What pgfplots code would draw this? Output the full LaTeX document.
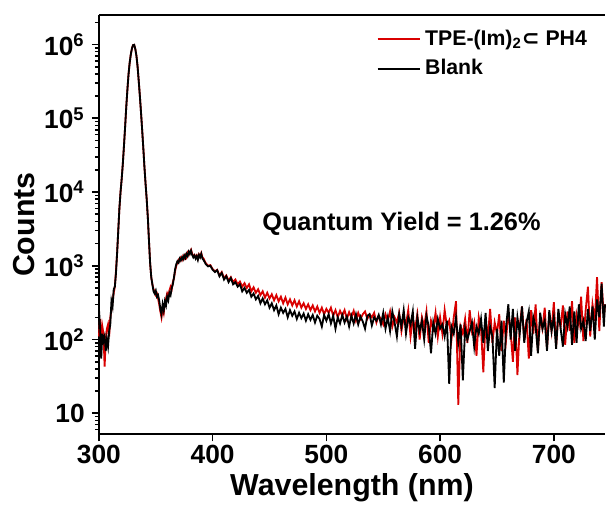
\documentclass[border=0pt]{standalone}
\usepackage{fontspec}
\setmainfont{Liberation Sans}
\newfontfamily\dejavu{DejaVu Sans}
\usepackage{pgfplots}
\usepackage{pgfplotstable}
\pgfplotsset{compat=1.18}

% TPE-(Im)2 in PH4 (red); columns: wavelength counts
\pgfplotstableread[row sep=\\]{
x y\\
300 110\\ 301 190\\ 302 90\\ 303 150\\ 304 120\\ 305 43\\ 306 100\\ 307 140\\ 308 160\\ 309 110\\
310 200\\ 311 250\\ 312 330\\ 313 430\\ 314 520\\ 315 850\\ 316 1500\\ 317 3000\\ 318 6000\\ 319 10000\\
320 15000\\ 321 24000\\ 322 42000\\ 323 75000\\ 324 140000\\ 325 240000\\ 326 390000\\ 327 560000\\ 328 730000\\ 329 880000\\
330 980000\\ 331 990000\\ 332 870000\\ 333 700000\\ 334 500000\\ 335 320000\\ 336 200000\\ 337 120000\\ 338 70000\\ 339 40000\\
340 22000\\ 341 13000\\ 342 8000\\ 343 4500\\ 344 2200\\ 345 1100\\ 346 700\\ 347 560\\ 348 480\\ 349 450\\
350 400\\ 351 420\\ 352 360\\ 353 300\\ 354 240\\ 355 200\\ 356 270\\ 357 230\\ 358 310\\ 359 360\\
360 420\\ 361 380\\ 362 460\\ 363 520\\ 364 480\\ 365 600\\ 366 680\\ 367 850\\ 368 1000\\ 369 1100\\
370 1200\\ 371 1150\\ 372 1280\\ 373 1200\\ 374 1350\\ 375 1260\\ 376 1400\\ 377 1300\\ 378 1500\\ 379 1400\\
380 1550\\ 381 1650\\ 382 1450\\ 383 1350\\ 384 1400\\ 385 1300\\ 386 1380\\ 387 1250\\ 388 1420\\ 389 1330\\
390 1480\\ 391 1300\\ 392 1250\\ 394 1080\\ 396 1000\\ 398 1020\\ 400 900\\
402 840\\ 404 880\\ 406 740\\ 408 820\\ 410 680\\ 412 740\\ 414 630\\ 416 700\\ 418 600\\ 420 650\\
422 560\\ 424 610\\ 426 520\\ 428 580\\ 430 500\\ 432 560\\ 434 450\\ 436 510\\ 438 430\\ 440 480\\
442 400\\ 444 450\\ 446 370\\ 448 430\\ 450 360\\ 452 410\\ 454 340\\ 456 400\\ 458 330\\ 460 380\\
462 310\\ 464 370\\ 466 300\\ 468 350\\ 470 290\\ 472 340\\ 474 280\\ 476 330\\ 478 270\\ 480 310\\
482 260\\ 484 300\\ 486 250\\ 488 290\\ 490 240\\ 492 280\\ 494 230\\ 496 270\\ 498 220\\ 500 260\\
502 230\\ 504 270\\ 506 210\\ 508 250\\ 510 200\\ 512 245\\ 514 210\\ 516 250\\ 518 190\\ 520 235\\
522 200\\ 524 245\\ 526 180\\ 528 230\\ 530 190\\ 532 220\\ 534 240\\ 536 190\\ 538 220\\ 540 200\\
542 230\\ 544 170\\ 546 210\\ 548 190\\ 550 160\\ 552 220\\ 554 180\\ 556 240\\ 558 150\\ 560 200\\
562 170\\ 564 230\\ 566 130\\ 568 200\\ 570 160\\ 572 250\\ 574 110\\ 576 190\\ 578 140\\ 580 220\\
582 100\\ 584 200\\ 586 150\\ 588 240\\ 590 90\\ 592 180\\ 594 140\\ 596 230\\ 598 110\\ 600 200\\
602 120\\ 604 250\\ 606 150\\ 608 180\\ 610 100\\ 612 200\\ 614 330\\ 616 13\\ 618 150\\ 620 120\\
622 190\\ 624 90\\ 626 250\\ 628 130\\ 630 170\\ 632 60\\ 634 200\\ 636 140\\ 638 36\\ 640 180\\
642 110\\ 644 260\\ 646 90\\ 648 170\\ 650 120\\ 652 220\\ 654 70\\ 656 180\\ 658 100\\ 660 240\\
662 130\\ 664 50\\ 666 200\\ 668 33\\ 670 150\\ 672 280\\ 674 100\\ 676 190\\ 678 55\\ 680 250\\
682 120\\ 684 300\\ 686 70\\ 688 200\\ 690 140\\ 692 270\\ 694 75\\ 696 220\\ 698 130\\ 700 320\\
702 80\\ 704 210\\ 706 150\\ 708 290\\ 710 85\\ 712 240\\ 714 130\\ 716 330\\ 718 90\\ 720 220\\
722 160\\ 724 380\\ 726 95\\ 728 250\\ 730 520\\ 732 110\\ 734 300\\ 736 180\\ 738 700\\ 740 130\\
742 600\\ 744 200\\ 745 300\\
}\sample

% Blank (black)
\pgfplotstableread[row sep=\\]{
x y\\
300 260\\ 301 150\\ 302 55\\ 303 120\\ 304 95\\ 305 110\\ 306 70\\ 307 100\\ 308 80\\ 309 130\\
310 160\\ 311 330\\ 312 280\\ 313 480\\ 314 520\\ 315 800\\ 316 1500\\ 317 3000\\ 318 6000\\ 319 10000\\
320 15000\\ 321 24000\\ 322 42000\\ 323 75000\\ 324 140000\\ 325 240000\\ 326 390000\\ 327 560000\\ 328 730000\\ 329 880000\\
330 980000\\ 331 990000\\ 332 870000\\ 333 700000\\ 334 500000\\ 335 320000\\ 336 200000\\ 337 120000\\ 338 70000\\ 339 40000\\
340 22000\\ 341 13000\\ 342 8000\\ 343 4500\\ 344 2200\\ 345 1100\\ 346 700\\ 347 560\\ 348 450\\ 349 420\\
350 460\\ 351 380\\ 352 400\\ 353 340\\ 354 260\\ 355 220\\ 356 300\\ 357 250\\ 358 330\\ 359 290\\
360 380\\ 361 340\\ 362 430\\ 363 400\\ 364 500\\ 365 560\\ 366 700\\ 367 900\\ 368 1050\\ 369 1150\\
370 1100\\ 371 1250\\ 372 1180\\ 373 1300\\ 374 1220\\ 375 1380\\ 376 1280\\ 377 1450\\ 378 1350\\ 379 1550\\
380 1450\\ 381 1600\\ 382 1400\\ 383 1300\\ 384 1380\\ 385 1250\\ 386 1350\\ 387 1200\\ 388 1400\\ 389 1300\\
390 1450\\ 391 1250\\ 392 1200\\ 394 1050\\ 396 980\\ 398 1000\\ 400 880\\
402 820\\ 404 870\\ 406 720\\ 408 800\\ 410 650\\ 412 720\\ 414 600\\ 416 680\\ 418 560\\ 420 600\\
422 520\\ 424 560\\ 426 450\\ 428 500\\ 430 430\\ 432 470\\ 434 380\\ 436 420\\ 438 350\\ 440 390\\
442 310\\ 444 360\\ 446 300\\ 448 340\\ 450 270\\ 452 310\\ 454 250\\ 456 290\\ 458 220\\ 460 270\\
462 230\\ 464 260\\ 466 200\\ 468 250\\ 470 210\\ 472 240\\ 474 190\\ 476 230\\ 478 195\\ 480 225\\
482 180\\ 484 220\\ 486 185\\ 488 215\\ 490 170\\ 492 210\\ 494 190\\ 496 150\\ 498 215\\ 500 180\\
502 220\\ 504 165\\ 506 210\\ 508 140\\ 510 200\\ 512 165\\ 514 215\\ 516 170\\ 518 205\\ 520 150\\
522 210\\ 524 165\\ 526 220\\ 528 160\\ 530 205\\ 532 175\\ 534 140\\ 536 210\\ 538 220\\ 540 155\\
542 200\\ 544 180\\ 546 215\\ 548 160\\ 550 230\\ 552 140\\ 554 200\\ 556 130\\ 558 240\\ 560 170\\
562 110\\ 564 220\\ 566 150\\ 568 250\\ 570 120\\ 572 200\\ 574 160\\ 576 240\\ 578 75\\ 580 200\\
582 130\\ 584 180\\ 586 100\\ 588 210\\ 590 150\\ 592 65\\ 594 170\\ 596 120\\ 598 190\\ 600 140\\
602 160\\ 604 110\\ 606 180\\ 608 25\\ 610 150\\ 612 120\\ 614 200\\ 616 90\\ 618 160\\ 620 28\\
622 140\\ 624 100\\ 626 130\\ 628 170\\ 630 80\\ 632 150\\ 634 120\\ 636 190\\ 638 90\\ 640 230\\
642 70\\ 644 150\\ 646 110\\ 648 22\\ 650 140\\ 652 60\\ 654 180\\ 656 26\\ 658 150\\ 660 300\\
662 100\\ 664 260\\ 666 70\\ 668 200\\ 670 120\\ 672 280\\ 674 90\\ 676 170\\ 678 240\\ 680 60\\
682 200\\ 684 150\\ 686 65\\ 688 230\\ 690 140\\ 692 180\\ 694 70\\ 696 250\\ 698 130\\ 700 200\\
702 75\\ 704 260\\ 706 140\\ 708 80\\ 710 220\\ 712 150\\ 714 280\\ 716 85\\ 718 240\\ 720 90\\
722 300\\ 724 140\\ 726 180\\ 728 95\\ 730 260\\ 732 130\\ 734 280\\ 736 100\\ 738 350\\ 740 200\\
742 570\\ 744 150\\ 745 300\\
}\blank

\begin{document}
\begin{tikzpicture}
\begin{axis}[
  scale only axis,
  width=250pt, height=207pt,
  ymode=log,
  xmin=300, xmax=745,
  ymin=5.2, ymax=2.5e6,
  clip=false,
  axis lines*=left,
  axis line style={-, line width=1pt},
  tick align=outside,
  major tick length=3.5pt,
  minor tick length=2pt,
  every tick/.style={black, line width=0.8pt},
  xtick={300,400,500,600,700},
  ytick={10,100,1000,10000,100000,1000000},
  minor ytick={6,7,8,9,20,30,40,50,60,70,80,90,200,300,400,500,600,700,800,900,
    2000,3000,4000,5000,6000,7000,8000,9000,20000,30000,40000,50000,60000,70000,80000,90000,
    200000,300000,400000,500000,600000,700000,800000,900000,2000000},
  yticklabels={10,10\textsuperscript{2},10\textsuperscript{3},10\textsuperscript{4},10\textsuperscript{5},10\textsuperscript{6}},
  xticklabel style={font=\fontsize{13}{13}\selectfont\bfseries, yshift=1.5pt},
  yticklabel style={font=\fontsize{13}{13}\selectfont\bfseries},
  /pgf/number format/assume math mode=true,
  xlabel={Wavelength (nm)},
  ylabel={Counts},
  label style={font=\fontsize{15}{15}\selectfont\bfseries},
  xlabel style={yshift=2pt},
  ylabel style={yshift=-2pt},
  legend style={draw=none, fill=none, at={(0.985,0.985)}, anchor=north east,
    font=\fontsize{10.5}{11}\selectfont\bfseries, row sep=1.5pt},
  legend cell align=left,
  legend image code/.code={\draw[mark repeat=2,mark phase=2,#1]
    plot coordinates {(0pt,0pt) (10.5pt,0pt) (21pt,0pt)};},
]
\addplot[red!85!black, line width=0.9pt] table[x=x, y=y] {\sample};
\addlegendentry{TPE-(Im)\textsubscript{2}{\dejavu\bfseries ⊂} PH4}
\addplot[black, line width=0.9pt] table[x=x, y=y] {\blank};
\addlegendentry{Blank}
\node[font=\fontsize{12.5}{13}\selectfont\bfseries] at (axis cs:566,3760) {Quantum Yield = 1.26\%};
\draw[line width=1pt] (rel axis cs:0,1) -- (rel axis cs:1,1);
\end{axis}
\path ([yshift=7.5pt]current axis.north);
\path ([xshift=-3pt]current axis.outer west);
\end{tikzpicture}
\end{document}
